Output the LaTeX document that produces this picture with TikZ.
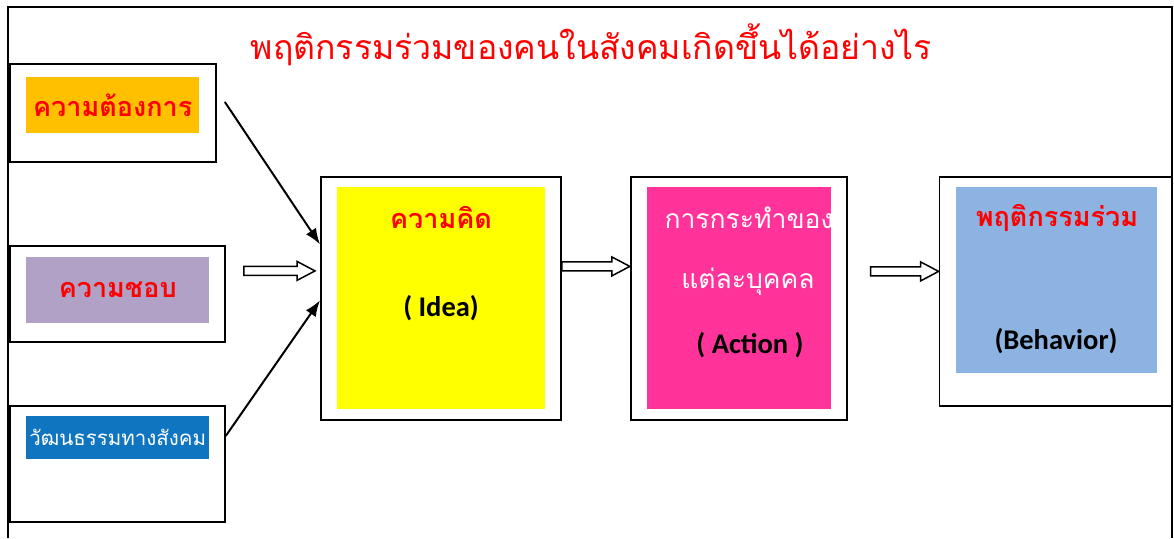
\documentclass[tikz,border=0pt]{standalone}
\usepackage{fontspec}
\setmainfont{Carlito}
\newfontfamily\thaifont[Script=Thai]{Loma}
\usetikzlibrary{arrows.meta,calc,positioning}

\definecolor{wantfill}{RGB}{255,192,0}
\definecolor{likefill}{RGB}{177,161,199}
\definecolor{culturefill}{RGB}{16,117,192}
\definecolor{ideafill}{RGB}{255,255,0}
\definecolor{actionfill}{RGB}{255,51,153}
\definecolor{behavefill}{RGB}{141,179,226}

\tikzstyle{frame} = [draw, line width=1.8pt, inner sep=0pt, anchor=north west]
\tikzstyle{pad} = [inner sep=0pt, anchor=north west]
\tikzstyle{thai} = [font=\thaifont\fontsize{26.5}{32}\selectfont, inner sep=0pt]
\tikzstyle{thaib} = [font=\thaifont\bfseries\fontsize{27}{32}\selectfont, inner sep=0pt, text=red]
\tikzstyle{eng} = [font=\bfseries\fontsize{28.5}{34}\selectfont, inner sep=0pt]
\tikzstyle{line} = [draw, line width=2pt, -{Latex[length=16pt,width=12pt]}]
\tikzstyle{hollow} = [draw, line width=1.5pt, fill=white, line join=miter]

% open arrow from #1 to #2 (same height)
\newcommand{\openarrow}[2]{%
  \draw[hollow] ($(#1)+(0,-4.5)$) -- ($(#2)+(-18,-4.5)$) -- ($(#2)+(-18,-9.5)$)
    -- (#2) -- ($(#2)+(-18,9.5)$) -- ($(#2)+(-18,4.5)$) -- ($(#1)+(0,4.5)$) -- cycle;}

\begin{document}
\begin{tikzpicture}[x=1pt,y=-1pt]
\useasboundingbox (0,0) rectangle (1174,538);

% outer frame
\draw[line width=2pt] (8,538) |- (1172,7) -- (1172,538);

\node[font=\thaifont\fontsize{33.8}{40}\selectfont, text=red, inner sep=0pt] (title) at (591,45) {พฤติกรรมร่วมของคนในสังคมเกิดขึ้นได้อย่างไร};

% left column
\node[frame, minimum width=206pt, minimum height=98pt] (want) at (9,63) {};
\node[pad, fill=wantfill, minimum width=173pt, minimum height=56pt] (wantbg) at (26,77) {};
\node[thaib] (wanttxt) at (wantbg.center) {ความต้องการ};

\node[frame, minimum width=215pt, minimum height=96pt] (like) at (9,245) {};
\node[pad, fill=likefill, minimum width=183pt, minimum height=66pt] (likebg) at (26,257) {};
\node[thaib] (liketxt) at (likebg.center) {ความชอบ};

\node[frame, minimum width=215pt, minimum height=116pt] (culture) at (9,405) {};
\node[pad, fill=culturefill, minimum width=183pt, minimum height=43pt] (culturebg) at (26,416) {};
\node[thai, text=white, font=\thaifont\fontsize{20.5}{26}\selectfont] (culturetxt) at (culturebg.center) {วัฒนธรรมทางสังคม};

% main chain
\node[frame, minimum width=240pt, minimum height=243pt] (idea) at (320,176) {};
\node[pad, fill=ideafill, minimum width=208pt, minimum height=222pt] (ideabg) at (337,187) {};
\node[thaib] (ideath) at (441,218) {ความคิด};
\node[eng] (ideaen) at (441,308) {( Idea)};

\node[frame, minimum width=216pt, minimum height=243pt, right=68pt of idea.north east, anchor=north west] (action) {};
\node[pad, fill=actionfill, minimum width=184pt, minimum height=222pt] (actionbg) at (647,187) {};
\node[thai, text=white] (actionth1) at (749,218) {การกระทำของ};
\node[thai, text=white] (actionth2) at (748,282) {แต่ละบุคคล};
\node[eng] (actionen) at (750,345) {( Action )};

\node[frame, minimum width=233pt, minimum height=229pt, right=91pt of action.north east, anchor=north west] (behave) {};
\node[pad, fill=behavefill, minimum width=201pt, minimum height=186pt] (behavebg) at (956,187) {};
\node[thaib] (behaveth) at (1057,218) {พฤติกรรมร่วม};
\node[eng] (behaveen) at (1056,341) {(Behavior)};

% connectors
\draw[line] ([shift={(8,-11)}]want.east) -- ([yshift=54pt]idea.west);
\draw[line] ([yshift=28pt]culture.east) -- ([yshift=-2pt]idea.west);

\coordinate (likeout) at ([shift={(18,-23)}]like.east);
\coordinate (ideain) at ($(idea.west |- likeout)+(-5,0)$);
\openarrow{likeout}{ideain}

\coordinate (ideaout) at ([yshift=32pt]idea.east);
\coordinate (actionin) at (action.west |- ideaout);
\openarrow{ideaout}{actionin}

\coordinate (actionout) at ([shift={(23,-27)}]action.east);
\coordinate (behavein) at (behave.west |- actionout);
\openarrow{actionout}{behavein}

\end{tikzpicture}
\end{document}
